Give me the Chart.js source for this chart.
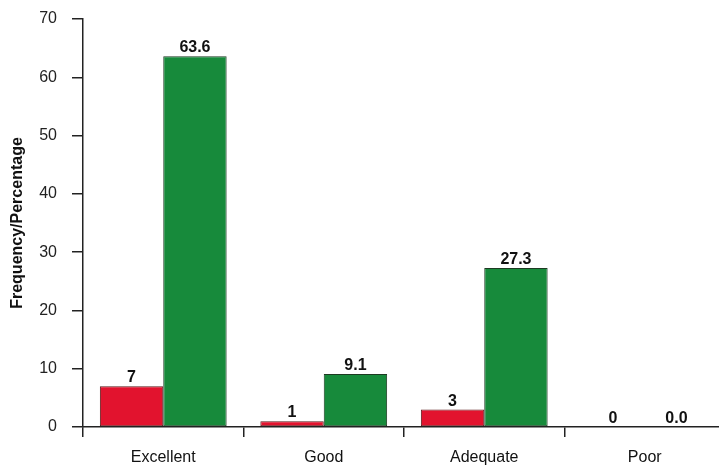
<!DOCTYPE html>
<html>
<head>
<meta charset="utf-8">
<script src="https://cdn.jsdelivr.net/npm/chart.js@4"></script>
<style>
  html, body { margin: 0; padding: 0; background: #fff; overflow: hidden; }
  #wrap { width: 726px; height: 465px; position: relative; }
</style>
</head>
<body>
<div id="wrap"><canvas id="chart"></canvas></div>
<script>
const categories = ['Excellent', 'Good', 'Adequate', 'Poor'];
const frequency = [7, 1, 3, 0];
const percentage = [63.6, 9.1, 27.3, 0.0];
const yTicks = [0, 10, 20, 30, 40, 50, 60, 70];

const FONT = "'Liberation Sans', Arial, sans-serif";

// value labels on top of each bar
const barLabels = {
  id: 'barLabels',
  afterDatasetsDraw(chart) {
    const ctx = chart.ctx;
    ctx.save();
    ctx.font = 'bold 16px ' + FONT;
    ctx.fillStyle = '#111';
    ctx.textAlign = 'center';
    ctx.textBaseline = 'alphabetic';
    chart.data.datasets.forEach((ds, i) => {
      chart.getDatasetMeta(i).data.forEach((bar, j) => {
        const v = ds.data[j];
        const txt = i === 0 ? String(v) : v.toFixed(1);
        ctx.fillText(txt, bar.x, bar.y - 4);
      });
    });
    ctx.restore();
  }
};

new Chart(document.getElementById('chart').getContext('2d'), {
  type: 'bar',
  data: {
    labels: categories,
    datasets: [
      {
        label: 'Frequency',
        data: frequency,
        backgroundColor: '#e2132e',
        borderColor: '#5a1a1a',
        borderWidth: 1,
        borderSkipped: false,
        categoryPercentage: 0.79,
        barPercentage: 1.0
      },
      {
        label: 'Percentage',
        data: percentage,
        backgroundColor: '#178a3b',
        borderColor: '#1d3a22',
        borderWidth: 1,
        borderSkipped: false,
        categoryPercentage: 0.79,
        barPercentage: 1.0
      }
    ]
  },
  options: {
    responsive: true,
    maintainAspectRatio: false,
    animation: false,
    layout: { padding: { top: 19, right: 1, left: 0, bottom: 0 } },
    plugins: {
      legend: { display: false },
      tooltip: { enabled: false }
    },
    scales: {
      x: {
        offset: true,
        grid: { offset: true, drawOnChartArea: false, color: '#222', tickLength: 10, lineWidth: 1.5 },
        border: { color: '#222', width: 1.5 },
        ticks: { color: '#111', font: { family: FONT, size: 16 }, padding: 11 },
        afterFit(scale) { scale.height = 38; }
      },
      y: {
        min: 0,
        max: 70,
        afterBuildTicks(scale) { scale.ticks = yTicks.map(v => ({ value: v })); },
        grid: { drawOnChartArea: false, color: '#222', tickLength: 11, lineWidth: 1.5 },
        border: { color: '#222', width: 1.5 },
        ticks: { color: '#222', font: { family: FONT, size: 16 }, padding: 15 },
        title: {
          display: true,
          text: 'Frequency/Percentage',
          color: '#111',
          font: { family: FONT, size: 16, weight: 'bold' },
          padding: { top: 8, bottom: 0 }
        },
        afterFit(scale) {
          scale.width = 83;
          scale.paddingTop = 0;
          scale.paddingBottom = 0;
        }
      }
    }
  },
  plugins: [barLabels]
});
</script>
</body>
</html>
